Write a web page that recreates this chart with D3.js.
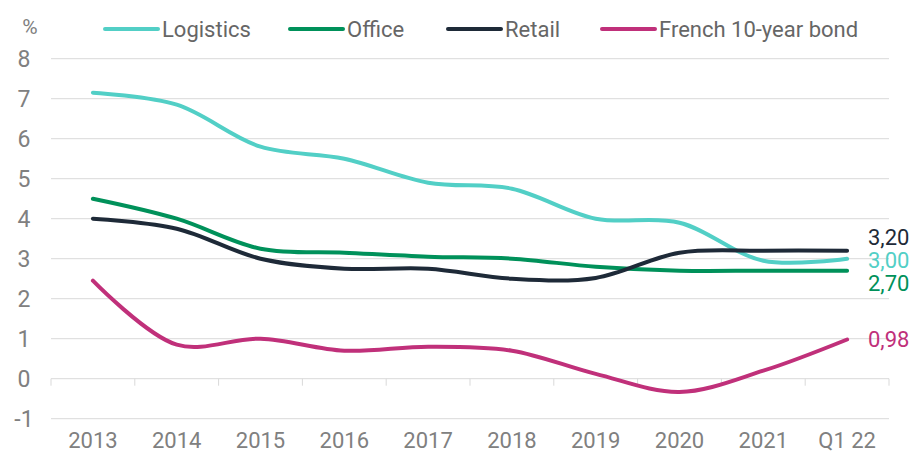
<!DOCTYPE html>
<html>
<head>
<meta charset="utf-8">
<script src="https://cdn.jsdelivr.net/npm/d3@7"></script>
<style>
  body { margin: 0; background: #fff; }
  text { font-family: "Roboto", "Liberation Sans", sans-serif; }
</style>
</head>
<body>
<svg id="chart"></svg>
<script>
const categories = ["2013", "2014", "2015", "2016", "2017", "2018", "2019", "2020", "2021", "Q1 22"];
const logistics = [7.15, 6.85, 5.8, 5.5, 4.9, 4.75, 4.0, 3.9, 2.95, 3.0];
const office = [4.5, 4.0, 3.25, 3.15, 3.05, 3.0, 2.8, 2.7, 2.7, 2.7];
const retail = [4.0, 3.75, 3.0, 2.75, 2.75, 2.5, 2.52, 3.15, 3.2, 3.2];
const bond = [2.45, 0.85, 1.0, 0.7, 0.8, 0.7, 0.12, -0.33, 0.2, 0.98];
const yTicks = [-1, 0, 1, 2, 3, 4, 5, 6, 7, 8];

const series = [
  { name: "Logistics", values: logistics, color: "#52cfc6" },
  { name: "Office", values: office, color: "#00915a" },
  { name: "Retail", values: retail, color: "#1e2a38" },
  { name: "French 10-year bond", values: bond, color: "#c0307a" }
];

let width = 917, height = 454;
let svg = d3.select("#chart").attr("width", width).attr("height", height);

let x = d3.scaleBand().domain(categories).range([51, 889]);
let y = d3.scaleLinear().domain([-1, 8]).range([418.7, 58.7]);

// gridlines
svg.append("g")
  .selectAll("line")
  .data(yTicks)
  .enter()
  .append("line")
  .attr("x1", 51).attr("x2", 889)
  .attr("y1", (d) => y(d)).attr("y2", (d) => y(d))
  .attr("stroke", "#d9d9d9")
  .attr("stroke-width", 1);

// y labels
svg.append("g")
  .selectAll("text")
  .data(yTicks)
  .enter()
  .append("text")
  .attr("x", 24)
  .attr("y", (d) => y(d))
  .attr("dy", "0.35em")
  .attr("text-anchor", "middle")
  .attr("fill", "#808080")
  .attr("font-size", "23px")
  .text((d) => d);

svg.append("text")
  .attr("x", 30).attr("y", 34)
  .attr("text-anchor", "middle")
  .attr("fill", "#808080")
  .attr("font-size", "21px")
  .text("%");

// x axis at zero with ticks between categories
let boundaries = categories.map((c) => x(c)).concat([x.range()[1]]);
svg.append("g")
  .selectAll("line")
  .data(boundaries)
  .enter()
  .append("line")
  .attr("x1", (d) => d).attr("x2", (d) => d)
  .attr("y1", y(0)).attr("y2", y(0) + 7)
  .attr("stroke", "#d9d9d9");

svg.append("g")
  .selectAll("text")
  .data(categories)
  .enter()
  .append("text")
  .attr("x", (d) => x(d) + x.bandwidth() / 2)
  .attr("y", 448)
  .attr("text-anchor", "middle")
  .attr("fill", "#808080")
  .attr("font-size", "22px")
  .text((d) => d);

// lines
let line = d3.line()
  .x((d, i) => x(categories[i]) + x.bandwidth() / 2)
  .y((d) => y(d))
  .curve(d3.curveCatmullRom.alpha(0.5));

svg.append("g")
  .selectAll("path")
  .data(series)
  .enter()
  .append("path")
  .attr("d", (s) => line(s.values))
  .attr("fill", "none")
  .attr("stroke", (s) => s.color)
  .attr("stroke-width", 4)
  .attr("stroke-linecap", "round");

// end labels, spread so they sit apart
let fmt = (v) => d3.format(".2f")(v).replace(".", ",");
let labels = series.map((s) => ({ s: s, v: s.values[s.values.length - 1], y: y(s.values[s.values.length - 1]) }));
labels.sort((a, b) => a.y - b.y);
let gap = 23;
let groups = [];
labels.forEach((l) => {
  let g = groups[groups.length - 1];
  if (g && l.y - g[g.length - 1].y < gap) g.push(l);
  else groups.push([l]);
});
groups.forEach((g) => {
  let mean = d3.mean(g, (l) => l.y);
  g.forEach((l, i) => { l.ly = mean + (i - (g.length - 1) / 2) * gap; });
});

svg.append("g")
  .selectAll("text")
  .data(labels)
  .enter()
  .append("text")
  .attr("x", 868)
  .attr("y", (l) => l.ly)
  .attr("dy", "0.36em")
  .attr("fill", (l) => l.s.color)
  .attr("font-size", "22px")
  .text((l) => fmt(l.v));

// legend
let legendX = [105, 290, 448, 602];
let legend = svg.append("g")
  .selectAll("g")
  .data(series)
  .enter()
  .append("g")
  .attr("transform", (d, i) => "translate(" + legendX[i] + ",29)");

legend.append("line")
  .attr("x1", 0).attr("x2", 53)
  .attr("stroke", (d) => d.color)
  .attr("stroke-width", 4)
  .attr("stroke-linecap", "round");

legend.append("text")
  .attr("x", 57)
  .attr("dy", "0.35em")
  .attr("fill", "#666")
  .attr("font-size", "22px")
  .text((d) => d.name);
</script>
</body>
</html>
